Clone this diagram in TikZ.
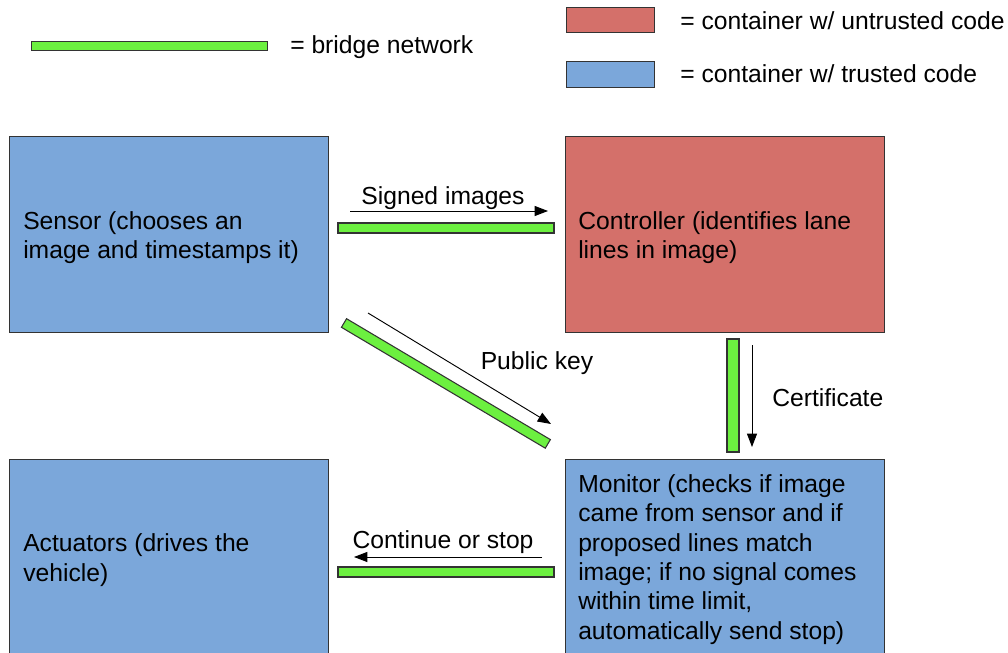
\documentclass[tikz,border=0pt]{standalone}
\usepackage{fontspec}
\setmainfont{Liberation Sans}
\usetikzlibrary{arrows.meta}
\definecolor{trusted}{RGB}{123,167,218}
\definecolor{untrusted}{RGB}{212,112,106}
\definecolor{bridgegreen}{RGB}{108,240,64}
\definecolor{edgegray}{RGB}{51,51,51}
\begin{document}
\begin{tikzpicture}[x=0.75pt,y=-0.75pt,
  box/.style={draw=edgegray, line width=0.9pt, anchor=north west, inner sep=0pt},
  bar/.style={draw=edgegray, fill=bridgegreen, line width=0.8pt},
  lbl/.style={font=\fontsize{18.5}{22}\selectfont, inner sep=0pt},
  txt/.style={lbl, anchor=west, align=left},
  arr/.style={-{Triangle[length=10pt,width=7.5pt]}, line width=0.7pt}]
\useasboundingbox (0,0) rectangle (1008,653);
\clip (0,0) rectangle (1008,653);
% legend
\node[bar, anchor=north west, inner sep=0pt, minimum width=177pt, minimum height=6.75pt] (legbar) at (31,41) {};
\node[lbl, anchor=west] (legbartxt) at (290,47) {= bridge network};
\node[box, fill=untrusted, minimum width=66pt, minimum height=18.75pt] (legred) at (566,7) {};
\node[lbl, anchor=west] (legredtxt) at (680,21) {= container w/ untrusted code};
\node[box, fill=trusted, minimum width=66pt, minimum height=19.5pt] (legblue) at (566,61) {};
\node[lbl, anchor=west] (legbluetxt) at (680,74) {= container w/ trusted code};
% containers
\node[box, fill=trusted, minimum width=239.25pt, minimum height=147pt] (sensor) at (9,136) {};
\node[box, fill=untrusted, minimum width=239.25pt, minimum height=147pt] (controller) at (565,136) {};
\node[box, fill=trusted, minimum width=239.25pt, minimum height=148.5pt] (actuators) at (9,459) {};
\node[box, fill=trusted, minimum width=239.25pt, minimum height=148.5pt] (monitor) at (565,459) {};
\node[txt] (sensortxt) at (23,237.5) {Sensor (chooses an\\image and timestamps it)};
\node[txt] (controllertxt) at (578,237.5) {Controller (identifies lane\\lines in image)};
\node[txt] (actuatorstxt) at (23,560) {Actuators (drives the\\vehicle)};
\node[txt] (monitortxt) at (578,559.5) {Monitor (checks if image\\came from sensor and if\\proposed lines match\\image; if no signal comes\\within time limit,\\automatically send stop)};
% bridge networks
\draw[bar] (338,223) rectangle (554,233);
\draw[bar] (727,339) rectangle (739,452);
\draw[bar] (338,567) rectangle (554,577);
\begin{scope}[shift={(344,323)}, rotate=-30.67]
  \draw[bar] (0,-5) rectangle (237,5);
\end{scope}
% arrows
\coordinate (a1s) at (350,211); \coordinate (a1e) at (548,211);
\coordinate (a2s) at (368,313); \coordinate (a2e) at (551,424);
\coordinate (a3s) at (752,345); \coordinate (a3e) at (752,447);
\coordinate (a4s) at (542,557); \coordinate (a4e) at (354,557);
\draw[arr] (a1s) -- (a1e);
\draw[arr] (a2s) -- (a2e);
\draw[arr] (a3s) -- (a3e);
\draw[arr] (a4s) -- (a4e);
\node[lbl] (signedlbl) at (443,198) {Signed images};
\node[lbl] (pubkeylbl) at (537,363) {Public key};
\node[lbl, anchor=west] (certlbl) at (772,398) {Certificate};
\node[lbl] (contlbl) at (443,542) {Continue or stop};
\end{tikzpicture}
\end{document}
